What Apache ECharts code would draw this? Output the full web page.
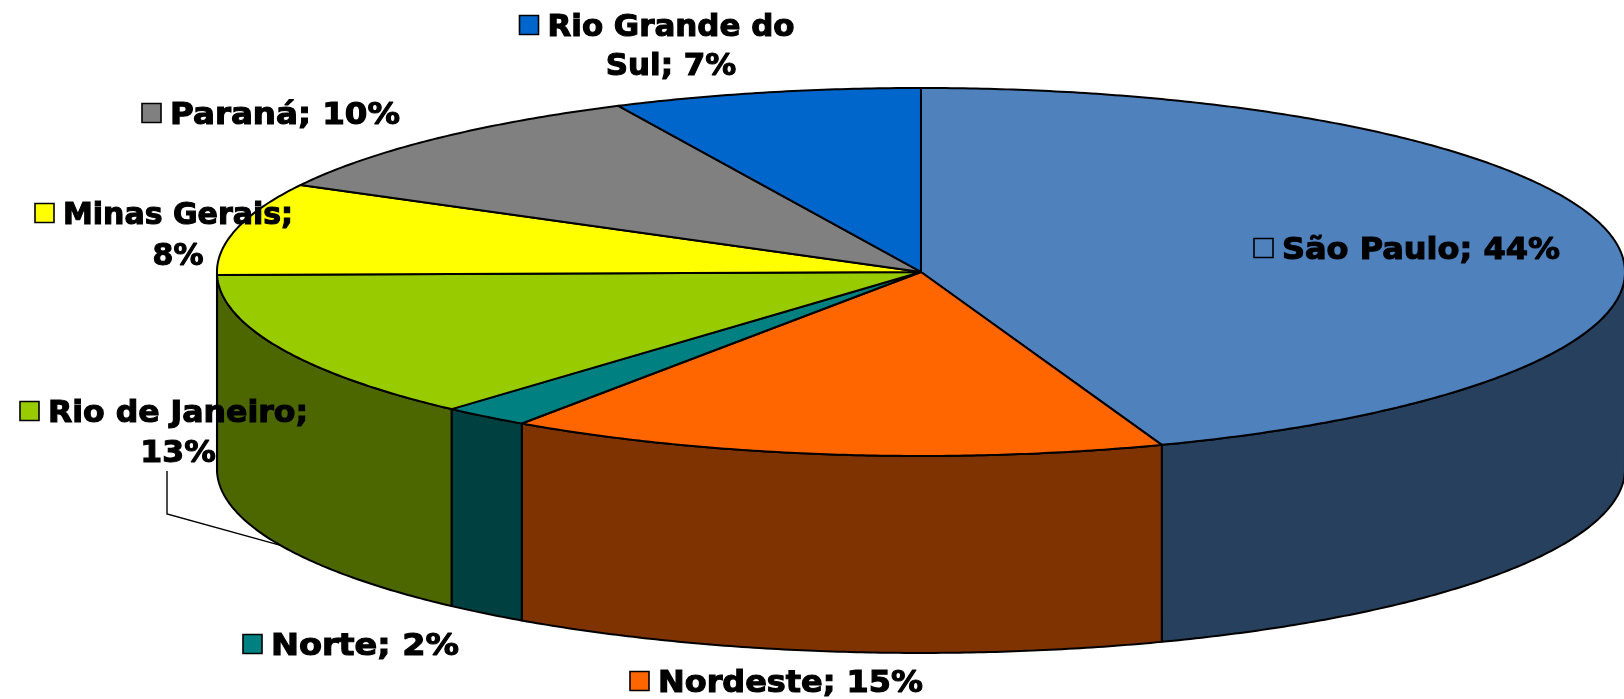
<!DOCTYPE html>
<html><head><meta charset="utf-8">
<script src="https://cdn.jsdelivr.net/npm/echarts@6/dist/echarts.min.js"></script>
<style>html,body{margin:0;padding:0;background:#fff}#chart{width:1624px;height:699px}</style>
</head><body><div id="chart"></div>
<script>
// ---- data ----
const categories = ['São Paulo', 'Nordeste', 'Norte', 'Rio de Janeiro', 'Minas Gerais', 'Paraná', 'Rio Grande do Sul'];
const values = [44, 15, 2, 13, 8, 10, 7];
const colors = ['#4F81BD', '#FF6600', '#008080', '#99CC00', '#FFFF00', '#808080', '#0066CC'];

// ---- layout (styling only) ----
const PIE = { cx: 0.5671, cy: 0.3891, rx: 0.4335, ry: 0.2632, depth: 0.2818 };
const FONT_SIZE = 30;
const FONT = 'bold ' + FONT_SIZE + 'px "DejaVu Sans"';
const LABELS = [
  { x: 1421, base: 259, w: 278, words: 0 },
  { x: 790.5, base: 692, w: 265, words: 0 },
  { x: 365, base: 655, w: 188, words: 0 },
  { x: 178, base: 422, lh: 40, w: 260, words: 3, leader: [[167, 471], [167, 514]] },
  { x: 178, base: 224, lh: 41, w: 230, words: 2 },
  { x: 285, base: 124, w: 230, words: 0 },
  { x: 671, base: 36, lh: 39, w: 247, words: 3 }
];

const total = values.reduce((a, b) => a + b, 0);
const starts = [];
let acc = 0;
values.forEach(v => { starts.push(acc); acc += v; });

const mctx = document.createElement('canvas').getContext('2d');
mctx.font = FONT;
function half(hex) {
  const n = parseInt(hex.slice(1), 16);
  return 'rgb(' + (((n >> 16) & 255) >> 1) + ',' + (((n >> 8) & 255) >> 1) + ',' + ((n & 255) >> 1) + ')';
}

function renderItem(params, api) {
  const i = params.dataIndex;
  const v = api.value(0);
  const color = colors[i];
  const W = api.getWidth(), H = api.getHeight();
  const cx = W * PIE.cx, cy = H * PIE.cy, rx = W * PIE.rx, ry = H * PIE.ry, d = H * PIE.depth;
  const a0 = starts[i] / total * 2 * Math.PI, a1 = (starts[i] + v) / total * 2 * Math.PI;
  const P = (t, dz) => [cx + rx * Math.sin(t), cy - ry * Math.cos(t) + (dz || 0)];
  const arc = (s, e, dz) => {
    const n = Math.max(2, Math.ceil((e - s) / (Math.PI / 360)));
    const pts = [];
    for (let k = 0; k <= n; k++) pts.push(P(s + (e - s) * k / n, dz));
    return pts;
  };
  const children = [];
  const s = Math.max(a0, Math.PI / 2), e = Math.min(a1, 1.5 * Math.PI);
  if (s < e) {
    const top = arc(s, e, 0);
    const bot = arc(s, e, d).reverse();
    children.push({ type: 'polygon', shape: { points: top.concat(bot) }, z2: 1,
      style: { fill: half(color), stroke: '#000', lineWidth: 2, lineJoin: 'round' } });
  }
  children.push({ type: 'polygon', shape: { points: [[cx, cy]].concat(arc(a0, a1, 0)) }, z2: 2,
    style: { fill: color, stroke: '#000', lineWidth: 2, lineJoin: 'round' } });

  // label
  const L = LABELS[i];
  const full = categories[i] + '; ' + v + '%';
  const parts = full.split(' ');
  const lines = L.words ? [parts.slice(0, L.words).join(' '), parts.slice(L.words).join(' ')] : [full];
  const w1 = mctx.measureText(lines[0]).width;
  const sx = L.w / w1;
  lines.forEach((ln, k) => {
    children.push({ type: 'text', z2: 10, x: L.x, y: L.base - 8 + k * (L.lh || 40), scaleX: sx,
      style: { text: ln, x: 0, y: 0, fill: '#000', stroke: '#000', lineWidth: 1.1, font: FONT,
        align: 'center', verticalAlign: 'middle' } });
  });
  const ks = 19;
  const kx = L.x - L.w / 2 - 9 - ks;
  children.push({ type: 'rect', z2: 10, shape: { x: kx, y: L.base - 11 - ks / 2, width: ks, height: ks },
    style: { fill: color, stroke: '#000', lineWidth: 1.6 } });
  if (L.leader) {
    const end = P((a0 + a1) / 2, d);
    children.push({ type: 'polyline', z2: 10, shape: { points: L.leader.concat([end]) },
      style: { fill: null, stroke: '#000', lineWidth: 1.4 } });
  }
  return { type: 'group', children };
}

const chart = echarts.init(document.getElementById('chart'), null, { renderer: 'canvas' });
chart.setOption({
  animation: false,
  backgroundColor: '#fff',
  series: [{
    type: 'custom',
    coordinateSystem: 'none',
    renderItem: renderItem,
    data: values.map((v, i) => [v, i])
  }]
});
</script>
</body></html>
